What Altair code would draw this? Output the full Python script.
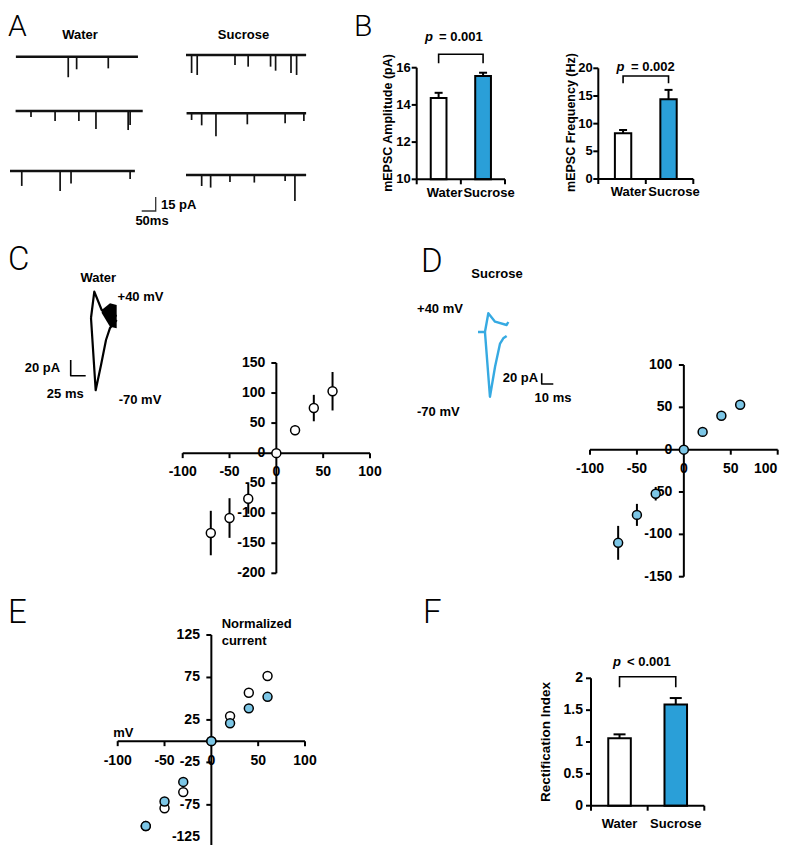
import altair as alt
import pandas as pd

# ---------------- data ----------------
groups = ["Water", "Sucrose"]

# Panel A: example mEPSC traces (event time in ms from trace origin, amplitude in pA)
water_traces = [
    {"start": 21, "end": 457, "t": [208, 238, 351], "amp": [22, 13.5, 12.5]},
    {"start": 20, "end": 474, "t": [75, 161, 246, 307, 422, 429], "amp": [6.4, 10.7, 10.7, 19.3, 20.4, 15]},
    {"start": 0, "end": 446, "t": [42, 179, 218, 429], "amp": [16, 21.4, 13.5, 8.6]},
]
sucrose_traces = [
    {"start": 0, "end": 429, "t": [20, 40, 175, 222, 302, 320, 375, 395],
     "amp": [19.3, 21.4, 10.7, 12.5, 12.5, 16.8, 19.3, 21.4]},
    {"start": 2, "end": 429, "t": [20, 56, 107, 219, 354, 421], "amp": [7.2, 12.9, 24.7, 11.8, 10.7, 8.3]},
    {"start": 0, "end": 429, "t": [56, 88, 157, 244, 354, 389], "amp": [11.8, 13.5, 7.5, 8.1, 6.4, 27.9]},
]
scalebar_A = {"ms": 50, "pA": 15}

# Panel B
amp_mean = [14.37, 15.55]
amp_sem = [0.28, 0.18]
amp_ticks = [10, 12, 14, 16]
amp_bracket = [16.24, 16.72]
freq_mean = [8.25, 14.4]
freq_sem = [0.6, 1.7]
freq_ticks = [0, 5, 10, 15, 20]
freq_bracket = [17.3, 18.6]

# Panel C / D example EPSC waveforms (ms, pA)
c_pos_t = [0, 5.5, 17.8, 31.7, 42.8]
c_pos_i = [0, 33.5, 10.2, 5, 2.5]
c_neg_t = [0, 7.8, 16.7, 25, 31.7, 42.8]
c_neg_i = [0, -92, -60, -28, -12.7, -2.5]
c_noise_t = [17.8, 31.7, 42.8]
c_noise_hi = [10.2, 18.7, 16.6]
c_noise_lo = [6.4, -11, -13.1]
d_pos_t = [0, 6, 8.9, 14.7, 24.7, 26.1]
d_pos_i = [0, 0, 35, 19.3, 13.1, 18.7]
d_neg_t = [6, 10.3, 14.7, 19, 21.8, 24.7]
d_neg_i = [0, -121, -65, -21.7, -11.8, -7.5]

# I-V data
voltages = [-70, -50, -30, 0, 20, 40, 60]
water_I = [-133, -108, -76, 0, 38, 75, 103]
water_sem = [37, 33, 25, 0, 8, 22, 32]
sucrose_I = [-110, -77, -52, 0, 21, 40, 53]
sucrose_sem = [20, 13, 8, 0, 3, 3, 5]
water_norm = [-100, -79, -60, 0, 29.5, 57, 76.7]
sucrose_norm = [-100, -71, -48, 0, 21, 38.6, 52.2]
iv_xticks = [-100, -50, 0, 50, 100]
c_yticks = [-200, -150, -100, -50, 0, 50, 100, 150]
d_yticks = [-150, -100, -50, 0, 50, 100]
e_yticks = [-125, -75, -25, 25, 75, 125]

# Panel F
ri_mean = [1.06, 1.59]
ri_sem = [0.06, 0.10]
ri_ticks = [0, 0.5, 1, 1.5, 2]
ri_tick_labels = ["0", "0.5", "1", "1.5", "2"]
ri_bracket = [1.86, 2.025]
frame_ticks = [0, 1, 2]

# ---------------- layout helpers ----------------
OFF = 8
FONT = "Liberation Sans"
BLUE_BAR = "#2a9fd8"
BLUE_PT = "#7cc6e6"
BLUE_TRACE = "#36aae2"


def S(d0, d1, p0, p1):
    return alt.Scale(domain=[d0, d1], range=[p0 - OFF, p1 - OFF], nice=False, zero=False)


def one():
    return pd.DataFrame({"k": [0]})


def label(s, x, y, size=13, weight="bold", align="center", baseline="alphabetic",
          angle=None, style=None, color="black", font=FONT):
    kw = dict(text=s, align=align, baseline=baseline, fontSize=size, fontWeight=weight,
              font=font, color=color)
    if angle is not None:
        kw["angle"] = angle
    if style:
        kw["fontStyle"] = style
    return alt.Chart(one()).mark_text(**kw).encode(x=alt.value(x - OFF), y=alt.value(y - OFF))


def Q(f, sc):
    return alt.X(f, scale=sc, axis=None)


def QY(f, sc):
    return alt.Y(f, scale=sc, axis=None)


layers = []

# ---------------- Panel letters ----------------
for s, x, y, sz in [("A", 8, 36, 30), ("B", 354, 36, 30), ("C", 8, 270, 33), ("D", 421, 272, 33),
                    ("E", 8, 623, 33), ("F", 423, 623.3, 33)]:
    layers.append(label(s, x, y, size=sz, weight=300, align="left", font="Roboto"))

# ---------------- Panel A ----------------
KA, KP = 0.28, 0.933


def trace_layers(tr, x0, base):
    xs = S(0, 500, x0, x0 + 500 * KA)
    ys = S(-30, 0, base + 30 * KP, base)
    bl = pd.DataFrame({"t0": [tr["start"]], "t1": [tr["end"]], "z": [0]})
    ev = pd.DataFrame({"t": tr["t"], "a": [-a for a in tr["amp"]], "z": 0})
    return [
        alt.Chart(bl).mark_rule(strokeWidth=2.6, color="#111111").encode(
            x=Q("t0:Q", xs), x2="t1:Q", y=QY("z:Q", ys)),
        alt.Chart(ev).mark_rule(strokeWidth=1.7, color="#111111").encode(
            x=Q("t:Q", xs), y=QY("z:Q", ys), y2="a:Q"),
    ]


for tr, base in zip(water_traces, [56.7, 111, 171]):
    layers += trace_layers(tr, 10, base)
for tr, base in zip(sucrose_traces, [55, 113.3, 175]):
    layers += trace_layers(tr, 186, base)

sbA = pd.DataFrame({"t": [0, scalebar_A["ms"], scalebar_A["ms"]],
                    "i": [0, 0, scalebar_A["pA"]], "o": [0, 1, 2]})
layers.append(alt.Chart(sbA).mark_line(strokeWidth=1.3, color="#333333").encode(
    x=Q("t:Q", S(0, 50, 141.7, 141.7 + 50 * KA)), y=QY("i:Q", S(0, 15, 211, 211 - 15 * KP)),
    order="o:Q"))
layers.append(label("Water", 80, 39.3))
layers.append(label("Sucrose", 243.5, 39.3))
layers.append(label("15 pA", 161, 209.3, align="left"))
layers.append(label("50ms", 152, 225))

# ---------------- Bar panels ----------------


def bar_panel(means, sems, band, xq, ys, yticks, ylabels, bracket, cap, lab_dx, lab_y,
              tlab_dx, tsize=13):
    L = []
    y0 = yticks[0]
    d = pd.DataFrame({"g": groups, "m": means,
                      "top": [m + s for m, s in zip(means, sems)], "base": y0})
    xenc = alt.X("g:N", scale=band, axis=None, sort=groups)
    L.append(alt.Chart(d).mark_rule(strokeWidth=2, color="black").encode(
        x=xenc, y=QY("m:Q", ys), y2="top:Q"))
    L.append(alt.Chart(d).mark_tick(orient="horizontal", size=cap, thickness=2, color="black",
                                    opacity=1).encode(x=xenc, y=QY("top:Q", ys)))
    L.append(alt.Chart(d).mark_bar(stroke="black", strokeWidth=2, opacity=1).encode(
        x=xenc, y=QY("m:Q", ys), y2="base:Q",
        fill=alt.Fill("g:N", scale=alt.Scale(domain=groups, range=["white", BLUE_BAR]),
                      legend=None)))
    fr = pd.DataFrame({"a": [frame_ticks[0]], "b": [frame_ticks[-1]],
                       "lo": [yticks[0]], "hi": [yticks[-1]]})
    L.append(alt.Chart(fr).mark_rule(strokeWidth=2, color="black").encode(
        x=Q("a:Q", xq), x2="b:Q", y=QY("lo:Q", ys)))
    L.append(alt.Chart(fr).mark_rule(strokeWidth=2, color="black").encode(
        x=Q("a:Q", xq), y=QY("lo:Q", ys), y2="hi:Q"))
    ft = pd.DataFrame({"v": frame_ticks, "lo": y0})
    L.append(alt.Chart(ft).mark_rule(strokeWidth=2, color="black", y2Offset=5).encode(
        x=Q("v:Q", xq), y=QY("lo:Q", ys), y2="lo:Q"))
    yt = pd.DataFrame({"v": yticks, "s": ylabels, "z": frame_ticks[0]})
    L.append(alt.Chart(yt).mark_rule(strokeWidth=2, color="black", x2Offset=-5).encode(
        x=Q("z:Q", xq), x2="z:Q", y=QY("v:Q", ys)))
    L.append(alt.Chart(yt).mark_text(align="right", baseline="middle", dx=tlab_dx,
                                     fontSize=tsize, fontWeight="bold", font=FONT).encode(
        x=Q("z:Q", xq), y=QY("v:Q", ys), text="s:N"))
    L.append(alt.Chart(d).mark_text(baseline="middle", dx=lab_dx, fontSize=13,
                                    fontWeight="bold", font=FONT).encode(
        x=xenc, y=alt.value(lab_y - OFF), text="g:N"))
    br = pd.DataFrame({"g": [groups[0], groups[0], groups[1], groups[1]],
                       "y": [bracket[0], bracket[1], bracket[1], bracket[0]],
                       "o": [0, 1, 2, 3]})
    L.append(alt.Chart(br).mark_line(strokeWidth=1.6, color="black").encode(
        x=xenc, y=QY("y:Q", ys), order="o:Q"))
    return L


def band(a, b, pi, po):
    return alt.Scale(type="band", domain=groups, range=[a - OFF, b - OFF],
                     paddingInner=pi, paddingOuter=po)


layers += bar_panel(amp_mean, amp_sem, band(416.7, 505, 0.646, 0.316), S(0, 2, 416.7, 505),
                    S(10, 16, 179.3, 67.7), amp_ticks, [str(v) for v in amp_ticks],
                    amp_bracket, 8, 6, 192.7, -6)
layers += bar_panel(freq_mean, freq_sem, band(598.3, 693.3, 0.64, 0.365), S(0, 2, 598.3, 693.3),
                    S(0, 20, 179, 68.3), freq_ticks, [str(v) for v in freq_ticks],
                    freq_bracket, 8, 5.5, 191.7, -5.5)
layers += bar_panel(ri_mean, ri_sem, band(591, 704.3, 0.599, 0.307), S(0, 2, 591, 704.3),
                    S(0, 2, 805.7, 678.3), ri_ticks, ri_tick_labels,
                    ri_bracket, 12, 0, 824, -8, tsize=14)

layers.append(label("mEPSC Amplitude (pA)", 387.5, 123, size=12.5, angle=270, baseline="middle"))
layers.append(label("mEPSC Frequency (Hz)", 571, 122.5, size=12.5, angle=270, baseline="middle"))
layers.append(label("Rectification Index", 546, 742, size=13.5, angle=270, baseline="middle"))
layers.append(label("p", 425, 41, weight="bold", style="italic", align="left"))
layers.append(label("= 0.001", 439, 41, align="left"))
layers.append(label("p", 616.5, 70.5, weight="bold", style="italic", align="left"))
layers.append(label("= 0.002", 631, 70.5, align="left"))
layers.append(label("p", 613, 666, weight="bold", style="italic", align="left"))
layers.append(label("< 0.001", 627, 666, align="left"))

# ---------------- Waveforms C / D ----------------


def wave(ts, vs, xs, ys, color, sw=2):
    d = pd.DataFrame({"t": ts, "i": vs, "o": list(range(len(ts)))})
    return alt.Chart(d).mark_line(strokeWidth=sw, color=color, strokeJoin="round").encode(
        x=Q("t:Q", xs), y=QY("i:Q", ys), order="o:Q")


cx = S(0, 50, 91, 91 + 50 * 0.6)
cy = S(-100, 40, 318 + 100 * 0.785, 318 - 40 * 0.785)
cn = pd.DataFrame({"t": c_noise_t, "hi": c_noise_hi, "lo": c_noise_lo})
layers.append(alt.Chart(cn).mark_area(color="black", opacity=1).encode(
    x=Q("t:Q", cx), y=QY("lo:Q", cy), y2="hi:Q"))
layers.append(wave(c_pos_t, c_pos_i, cx, cy, "black", 2.2))
layers.append(wave(c_neg_t, c_neg_i, cx, cy, "black", 2.2))
layers.append(wave([0, 0, 25], [20, 0, 0], S(0, 25, 70.7, 85.7), S(0, 20, 375.7, 360), "black", 1.6))
layers.append(label("Water", 98.2, 281.7))
layers.append(label("+40 mV", 140.5, 300.7))
layers.append(label("-70 mV", 140, 404))
layers.append(label("20 pA", 42.5, 371.5))
layers.append(label("25 ms", 65.3, 398))

dx_ = S(0, 30, 478, 478 + 30 * 1.16)
dy_ = S(-130, 40, 332 + 130 * 0.535, 332 - 40 * 0.535)
layers.append(wave(d_pos_t, d_pos_i, dx_, dy_, BLUE_TRACE, 2.4))
layers.append(wave(d_neg_t, d_neg_i, dx_, dy_, BLUE_TRACE, 2.4))
layers.append(wave([0, 0, 10], [20, 0, 0], S(0, 10, 541.7, 553.3), S(0, 20, 384, 373.3), "black", 1.6))
layers.append(label("Sucrose", 497, 278.3))
layers.append(label("+40 mV", 440, 312.7))
layers.append(label("-70 mV", 438.3, 416))
layers.append(label("20 pA", 520.5, 382))
layers.append(label("10 ms", 553, 401.7))

# ---------------- I-V panels ----------------


def iv_axes(xs, ys, xticks, yticks, xdy, ydx, x_shift=None, y_shift=None):
    x_shift = x_shift or {}
    y_shift = y_shift or {}
    L = []
    xa = pd.DataFrame({"a": [xticks[0]], "b": [xticks[-1]], "z": [0]})
    L.append(alt.Chart(xa).mark_rule(strokeWidth=2, color="black").encode(
        x=Q("a:Q", xs), x2="b:Q", y=QY("z:Q", ys)))
    ya = pd.DataFrame({"a": [yticks[0]], "b": [yticks[-1]], "z": [0]})
    L.append(alt.Chart(ya).mark_rule(strokeWidth=2, color="black").encode(
        y=QY("a:Q", ys), y2="b:Q", x=Q("z:Q", xs)))
    xt = pd.DataFrame({"v": xticks, "z": 0, "s": [str(v) for v in xticks]})
    L.append(alt.Chart(xt).mark_rule(strokeWidth=2, color="black", y2Offset=5).encode(
        x=Q("v:Q", xs), y=QY("z:Q", ys), y2="z:Q"))
    for v in xticks:
        xl = pd.DataFrame({"v": [v], "z": [0], "s": [str(v)]})
        L.append(alt.Chart(xl).mark_text(baseline="middle", dy=xdy, dx=x_shift.get(v, 0),
                                         fontSize=14, fontWeight="bold", font=FONT).encode(
            x=Q("v:Q", xs), y=QY("z:Q", ys), text="s:N"))
    yt = pd.DataFrame({"v": yticks, "z": 0, "s": [str(v) for v in yticks]})
    L.append(alt.Chart(yt).mark_rule(strokeWidth=2, color="black", x2Offset=-5).encode(
        y=QY("v:Q", ys), x=Q("z:Q", xs), x2="z:Q"))
    for v in yticks:
        yl = pd.DataFrame({"v": [v], "z": [0], "s": [str(v)]})
        L.append(alt.Chart(yl).mark_text(align="right", baseline="middle", dx=ydx,
                                         dy=y_shift.get(v, 0), fontSize=14,
                                         fontWeight="bold", font=FONT).encode(
            y=QY("v:Q", ys), x=Q("z:Q", xs), text="s:N"))
    return L


def iv_points(xs, ys, vals, sems, fillc):
    L = []
    d = pd.DataFrame({"v": voltages, "i": vals})
    if sems is not None:
        d["lo"] = [a - s for a, s in zip(vals, sems)]
        d["hi"] = [a + s for a, s in zip(vals, sems)]
        L.append(alt.Chart(d).mark_rule(strokeWidth=2, color="black").encode(
            x=Q("v:Q", xs), y=QY("lo:Q", ys), y2="hi:Q"))
    L.append(alt.Chart(d).mark_point(shape="circle", size=80, filled=True, fill=fillc,
                                     stroke="black", strokeWidth=1.5, opacity=1).encode(
        x=Q("v:Q", xs), y=QY("i:Q", ys)))
    return L


csx, csy = S(-100, 100, 182.7, 370), S(-200, 150, 573.3, 363)
layers += iv_axes(csx, csy, iv_xticks, c_yticks, 18.5, -11)
layers += iv_points(csx, csy, water_I, water_sem, "white")

dsx, dsy = S(-100, 100, 590, 777.7), S(-150, 100, 576.7, 365)
layers += iv_axes(dsx, dsy, iv_xticks, d_yticks, 19.3, -11.5, x_shift={100: -12})
layers += iv_points(dsx, dsy, sucrose_I, sucrose_sem, BLUE_PT)

esx, esy = S(-100, 100, 117.7, 305), S(-125, 125, 847.3, 635)
layers += iv_axes(esx, esy, iv_xticks, e_yticks, 19.7, -11.4, y_shift={-125: -10})
layers += iv_points(esx, esy, water_norm, None, "white")
layers += iv_points(esx, esy, sucrose_norm, None, BLUE_PT)
layers.append(label("mV", 113.3, 736.7, align="left"))
layers.append(label("Normalized", 221.7, 628.3, align="left"))
layers.append(label("current", 221.7, 645, align="left"))

chart = alt.layer(*layers).resolve_scale(
    x="independent", y="independent"
).properties(
    width=774, height=837, padding=0, autosize=alt.AutoSizeParams(type="none")
).configure_view(stroke=None)

chart.save("out.html", embed_options={"renderer": "svg", "actions": False})
